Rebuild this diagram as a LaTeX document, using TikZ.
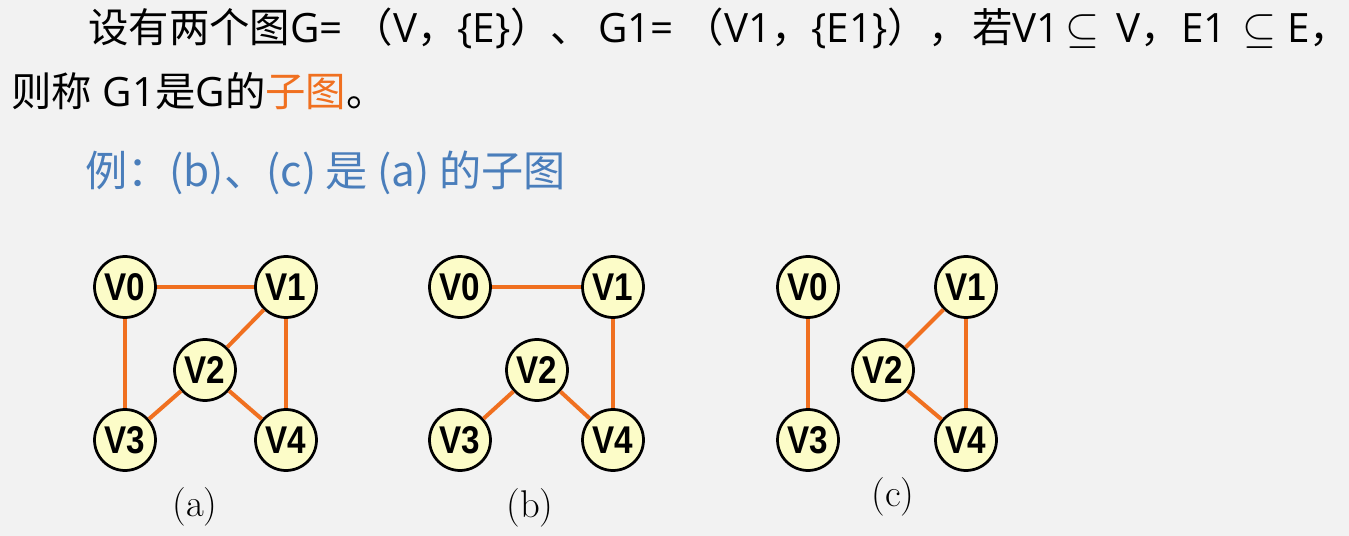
\documentclass[tikz,border=0pt]{standalone}
\usepackage{fontspec}
\newfontfamily\cjk{Noto Sans CJK SC}
\newfontfamily\latinfont{Open Sans}
\newfontfamily\vfont[FakeStretch=0.86]{Liberation Sans}
\newcommand\lat[1]{{\latinfont #1}}
\newcommand\subs{{\fontsize{24}{24}\selectfont$\subseteq$}}
\definecolor{bg}{HTML}{F2F2F2}
\definecolor{edgeorange}{HTML}{F07020}
\definecolor{nodefill}{HTML}{FCFCC8}
\definecolor{noteblue}{HTML}{4A7EBB}
\begin{document}
\begin{tikzpicture}[x=0.02cm, y=-0.02cm,
  vertex/.style={circle, draw, line width=0.055cm, fill=nodefill, minimum size=1.22cm, inner sep=0pt,
    font=\vfont\bfseries\fontsize{22}{22}\selectfont},
  link/.style={draw=edgeorange, line width=0.08cm},
  caption/.style={font=\fontsize{22}{26}\selectfont},
  textline/.style={anchor=base west, inner sep=0pt, font=\cjk\fontsize{23}{27}\selectfont}
]
\fill[bg] (0,0) rectangle (1349,536);
\useasboundingbox (0,0) rectangle (1349,536);

% definition text
\node[textline] (def1) at (88,43) {设有两个图\lat{G=}\hspace{5.5pt}（\lat{V}，\lat{\{E\}}）、\hspace{4pt}\lat{G1=}\hspace{5.5pt}（\lat{V1}，\lat{\{E1\}}），\hspace{2pt}若\lat{V1}\hspace{3pt}\subs\hspace{10pt}\lat{V}，\lat{E1}\hspace{9pt}\subs\hspace{6pt}\lat{E}，};
\node[textline] (def2) at (11,107) {则称\hspace{6pt}\lat{G1}是\lat{G}的\textcolor{edgeorange}{子图}。};
\node[textline, text=noteblue, font=\cjk\fontsize{24}{28}\selectfont] (note) at (85,187) {例：(b)、(c) 是 (a) 的子图};

% graph (a)
\node[vertex] (a0) at (125,287) {V0};
\node[vertex] (a1) at (286,287) {V1};
\node[vertex] (a2) at (205,370) {V2};
\node[vertex] (a3) at (125,440) {V3};
\node[vertex] (a4) at (286,440) {V4};
\draw[link] (a0) -- (a1);
\draw[link] (a0) -- (a3);
\draw[link] (a1) -- (a2);
\draw[link] (a1) -- (a4);
\draw[link] (a2) -- (a3);
\draw[link] (a2) -- (a4);
\node[caption] (capa) at (195,507) {(a)};

% graph (b)
\node[vertex] (b0) at (460,287) {V0};
\node[vertex] (b1) at (613,287) {V1};
\node[vertex] (b2) at (537,370) {V2};
\node[vertex] (b3) at (460,440) {V3};
\node[vertex] (b4) at (613,440) {V4};
\draw[link] (b0) -- (b1);
\draw[link] (b1) -- (b4);
\draw[link] (b2) -- (b3);
\draw[link] (b2) -- (b4);
\node[caption] (capb) at (530,508) {(b)};

% graph (c)
\node[vertex] (c0) at (808,287) {V0};
\node[vertex] (c1) at (966,287) {V1};
\node[vertex] (c2) at (883,370) {V2};
\node[vertex] (c3) at (808,440) {V3};
\node[vertex] (c4) at (966,440) {V4};
\draw[link] (c0) -- (c3);
\draw[link] (c1) -- (c2);
\draw[link] (c1) -- (c4);
\draw[link] (c2) -- (c4);
\node[caption] (capc) at (893,497) {(c)};
\end{tikzpicture}
\end{document}
